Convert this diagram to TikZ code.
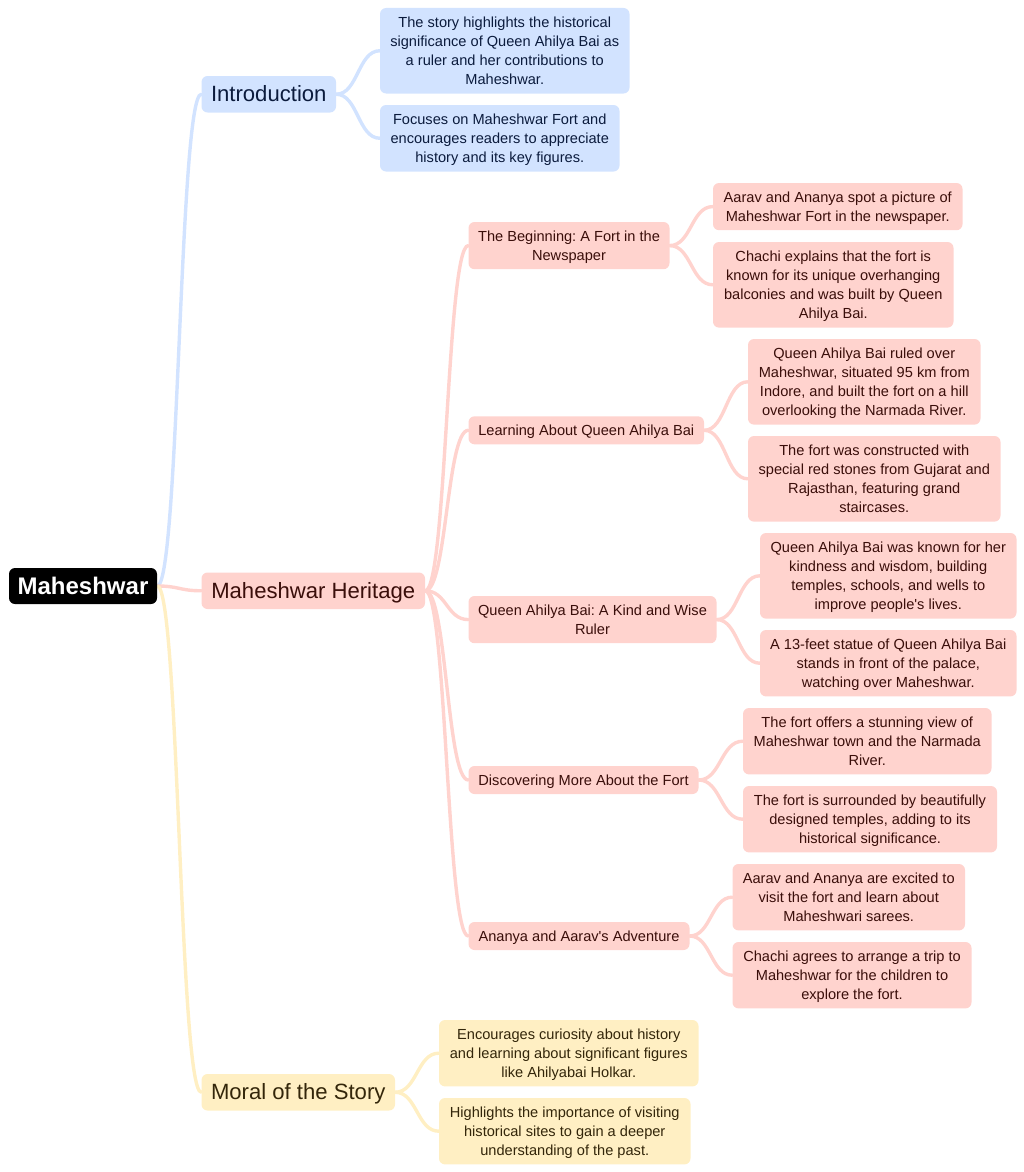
\documentclass[tikz,border=0pt]{standalone}
\usepackage{fontspec}
\setmainfont{Liberation Sans}[Ligatures=TeXOff]
\usetikzlibrary{calc,backgrounds}
\frenchspacing
\definecolor{bluefill}{HTML}{D2E3FF}
\definecolor{bluetext}{HTML}{0B1B3D}
\definecolor{redfill}{HTML}{FFD3CE}
\definecolor{redtext}{HTML}{3A0E0A}
\definecolor{yellowfill}{HTML}{FFEFC3}
\definecolor{yellowtext}{HTML}{33260A}
\tikzset{
  box/.style={rounded corners=6pt,inner sep=0pt,align=center},
  rootbox/.style={box,fill=black,text=white,font=\fontsize{24}{28}\selectfont\bfseries},
  topbox/.style={box,text height=16pt,text depth=1.5pt,font=\fontsize{22.1}{26}\selectfont},
  leafbox/.style={box,font=\fontsize{14.6}{19.2}\selectfont,execute at end node={\rule[-3pt]{0pt}{1pt}}},
  bluebox/.style={fill=bluefill,text=bluetext},
  redbox/.style={fill=redfill,text=redtext},
  yellowbox/.style={fill=yellowfill,text=yellowtext},
  link/.style={line width=3.4pt,line cap=round},
}
% box from its corners: \boxat{style}{name}{x1}{y1}{x2}{y2}{text}
\newcommand{\boxat}[7]{%
  \pgfmathsetmacro{\bw}{#5-#3}\pgfmathsetmacro{\bh}{#6-#4}%
  \node[#1,minimum width=\bw pt,minimum height=\bh pt] (#2) at ({(#3+#5)/2},{(#4+#6)/2}) {\rule{0pt}{13.5pt}#7};}
\begin{document}
\begin{tikzpicture}[x=1pt,y=-1pt]
    \useasboundingbox (0,0) rectangle (1024,1172);
    % root
    \boxat{rootbox}{root}{9}{568}{157}{604}{Maheshwar}
    % first level
    \boxat{topbox,bluebox}{intro}{201.5}{76}{336}{112.5}{Introduction}
    \boxat{topbox,redbox}{herit}{201.5}{572.5}{425}{609}{Maheshwar Heritage}
    \boxat{topbox,yellowbox}{moral}{201.5}{1074}{395}{1110.5}{Moral of the Story}
    % introduction
    \boxat{leafbox,bluebox}{introa}{380}{8}{629.5}{93.5}{The story highlights the historical\\significance of Queen Ahilya Bai as\\a ruler and her contributions to\\Maheshwar.}
    \boxat{leafbox,bluebox}{introb}{380}{105}{619.5}{171.5}{Focuses on Maheshwar Fort and\\encourages readers to appreciate\\history and its key figures.}
    % heritage
    \boxat{leafbox,redbox}{begin}{468.5}{222}{669.5}{269.2}{The Beginning: A Fort in the\\Newspaper}
    \boxat{leafbox,redbox}{begina}{713}{183}{962.5}{230.2}{Aarav and Ananya spot a picture of\\Maheshwar Fort in the newspaper.}
    \boxat{leafbox,redbox}{beginb}{713}{242}{953.5}{327.6}{Chachi explains that the fort is\\known for its unique overhanging\\balconies and was built by Queen\\Ahilya Bai.}
    \boxat{leafbox,redbox}{learn}{468.5}{416.3}{704}{444.3}{Learning About Queen Ahilya Bai}
    \boxat{leafbox,redbox}{learna}{748}{339}{980.5}{424.6}{Queen Ahilya Bai ruled over\\Maheshwar, situated 95 km from\\Indore, and built the fort on a hill\\overlooking the Narmada River.}
    \boxat{leafbox,redbox}{learnb}{748}{436}{1000.5}{521.6}{The fort was constructed with\\special red stones from Gujarat and\\Rajasthan, featuring grand\\staircases.}
    \boxat{leafbox,redbox}{queen}{468.5}{596}{716.5}{643.2}{Queen Ahilya Bai: A Kind and Wise\\Ruler}
    \boxat{leafbox,redbox}{queena}{760}{533}{1016.5}{618.6}{Queen Ahilya Bai was known for her\\kindness and wisdom, building\\temples, schools, and wells to\\improve people's lives.}
    \boxat{leafbox,redbox}{queenb}{760}{630}{1016.5}{696.4}{A 13-feet statue of Queen Ahilya Bai\\stands in front of the palace,\\watching over Maheshwar.}
    \boxat{leafbox,redbox}{disc}{468.5}{766}{698.5}{794}{Discovering More About the Fort}
    \boxat{leafbox,redbox}{disca}{743}{708}{991.5}{774.4}{The fort offers a stunning view of\\Maheshwar town and the Narmada\\River.}
    \boxat{leafbox,redbox}{discb}{743}{786}{997}{852.4}{The fort is surrounded by beautifully\\designed temples, adding to its\\historical significance.}
    \boxat{leafbox,redbox}{adv}{468.5}{922}{689.5}{950}{Ananya and Aarav's Adventure}
    \boxat{leafbox,redbox}{adva}{732.5}{864}{965}{930.4}{Aarav and Ananya are excited to\\visit the fort and learn about\\Maheshwari sarees.}
    \boxat{leafbox,redbox}{advb}{732.5}{942}{971.5}{1008.4}{Chachi agrees to arrange a trip to\\Maheshwar for the children to\\explore the fort.}
    % moral
    \boxat{leafbox,yellowbox}{morala}{439}{1020}{698.5}{1086.4}{Encourages curiosity about history\\and learning about significant figures\\like Ahilyabai Holkar.}
    \boxat{leafbox,yellowbox}{moralb}{439}{1098}{690.5}{1164.4}{Highlights the importance of visiting\\historical sites to gain a deeper\\understanding of the past.}
    % links, behind the boxes
    \begin{scope}[on background layer]
        \foreach \a/\b/\c in {root/intro/bluefill,intro/introa/bluefill,intro/introb/bluefill,
            root/herit/redfill,herit/begin/redfill,herit/learn/redfill,herit/queen/redfill,herit/disc/redfill,herit/adv/redfill,
            begin/begina/redfill,begin/beginb/redfill,learn/learna/redfill,learn/learnb/redfill,
            queen/queena/redfill,queen/queenb/redfill,disc/disca/redfill,disc/discb/redfill,
            adv/adva/redfill,adv/advb/redfill,
            root/moral/yellowfill,moral/morala/yellowfill,moral/moralb/yellowfill}
            \draw[link,color=\c] (\a.east)
                .. controls ($(\a.east)!0.5!(\b.west |- \a.east)$) and ($(\a.east |- \b.west)!0.5!(\b.west)$)
                .. (\b.west);
    \end{scope}
\end{tikzpicture}
\end{document}
